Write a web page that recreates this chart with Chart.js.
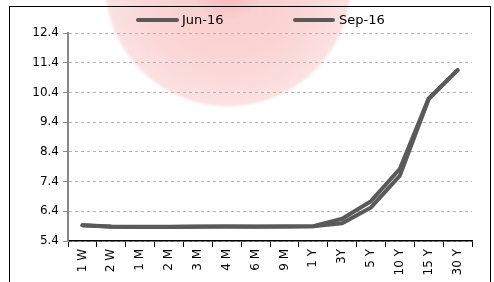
<!DOCTYPE html>
<html>
<head>
<meta charset="utf-8">
<script src="https://cdn.jsdelivr.net/npm/chart.js@4/dist/chart.umd.min.js"></script>
<style>
  html, body { margin: 0; padding: 0; background: #fff; }
  #wrap { width: 494px; height: 282px; }
</style>
</head>
<body>
<div id="wrap"><canvas id="curveChart" width="494" height="282"></canvas></div>
<script>
// Data
const tenors = ['1 W', '2 W', '1 M', '2 M', '3 M', '4 M', '6 M', '9 M', '1 Y', '3Y', '5 Y', '10 Y', '15 Y', '30 Y'];
const jun16 = [5.93, 5.88, 5.87, 5.87, 5.88, 5.89, 5.88, 5.89, 5.90, 6.00, 6.53, 7.60, 10.18, 11.15];
const sep16 = [5.93, 5.89, 5.88, 5.88, 5.89, 5.89, 5.89, 5.89, 5.90, 6.15, 6.74, 7.83, 10.20, 11.15];
const yTicks = [5.4, 6.4, 7.4, 8.4, 9.4, 10.4, 11.4, 12.4];

const FONT = 'DejaVu Sans, Verdana, sans-serif';
const LINE = '#5a5a5a';

// pink watermark + outer frame + legend
const backdrop = {
    id: 'backdrop',
    beforeDraw(chart) {
        const ctx = chart.ctx;
        ctx.save();
        const g = ctx.createRadialGradient(228, -17, 0, 228, -17, 125);
        g.addColorStop(0, 'rgba(240, 120, 120, 0.6)');
        g.addColorStop(0.3, 'rgba(246, 170, 170, 0.55)');
        g.addColorStop(0.97, 'rgba(251, 218, 218, 0.8)');
        g.addColorStop(1, 'rgba(251, 218, 218, 0)');
        ctx.fillStyle = g;
        ctx.beginPath();
        ctx.arc(228, -17, 125, 0, Math.PI * 2);
        ctx.fill();
        ctx.restore();
    },
    afterDraw(chart) {
        const ctx = chart.ctx;
        ctx.save();
        ctx.strokeStyle = '#000';
        ctx.lineWidth = 1;
        ctx.strokeRect(9.5, 6.5, 481, 300);

        const items = [[138, 177, 182], [295, 333, 339]];
        ctx.font = '13px ' + FONT;
        ctx.textBaseline = 'middle';
        chart.data.datasets.forEach((ds, i) => {
            const it = items[i];
            ctx.strokeStyle = ds.borderColor;
            ctx.lineWidth = 4;
            ctx.lineCap = 'round';
            ctx.beginPath();
            ctx.moveTo(it[0], 20);
            ctx.lineTo(it[1], 20);
            ctx.stroke();
            ctx.fillStyle = '#000';
            ctx.fillText(ds.label, it[2], 20.5);
        });
        ctx.restore();
    }
};

new Chart(document.getElementById('curveChart'), {
    type: 'line',
    data: {
        labels: tenors,
        datasets: [
            { label: 'Jun-16', data: jun16, borderColor: LINE, borderWidth: 4, pointRadius: 0, borderJoinStyle: 'round', borderCapStyle: 'round', tension: 0 },
            { label: 'Sep-16', data: sep16, borderColor: LINE, borderWidth: 4, pointRadius: 0, borderJoinStyle: 'round', borderCapStyle: 'round', tension: 0 }
        ]
    },
    options: {
        responsive: false,
        animation: false,
        events: [],
        layout: { padding: { left: 0, right: 22, top: 33, bottom: 0 } },
        plugins: {
            legend: { display: false },
            tooltip: { enabled: false }
        },
        scales: {
            x: {
                offset: true,
                grid: { offset: true, drawOnChartArea: false, drawTicks: true, tickLength: 6, color: '#000', lineWidth: 1 },
                border: { color: '#000', width: 1.5 },
                ticks: { color: '#000', font: { family: FONT, size: 12 }, minRotation: 90, maxRotation: 90, autoSkip: false, padding: 2 },
                afterFit: s => { s.height = 41; }
            },
            y: {
                min: 5.4,
                max: 12.4,
                afterBuildTicks: s => { s.ticks = yTicks.map(v => ({ value: v })); },
                grid: { color: '#b4b4b4', lineWidth: 1, tickLength: 5, tickColor: '#888', tickBorderDash: [] },
                border: { color: '#888', width: 2, dash: [3, 3] },
                ticks: { color: '#000', font: { family: FONT, size: 12 }, padding: 4, callback: v => v.toFixed(1) },
                afterFit: s => { s.width = 68; }
            }
        }
    },
    plugins: [backdrop]
});
</script>
</body>
</html>
